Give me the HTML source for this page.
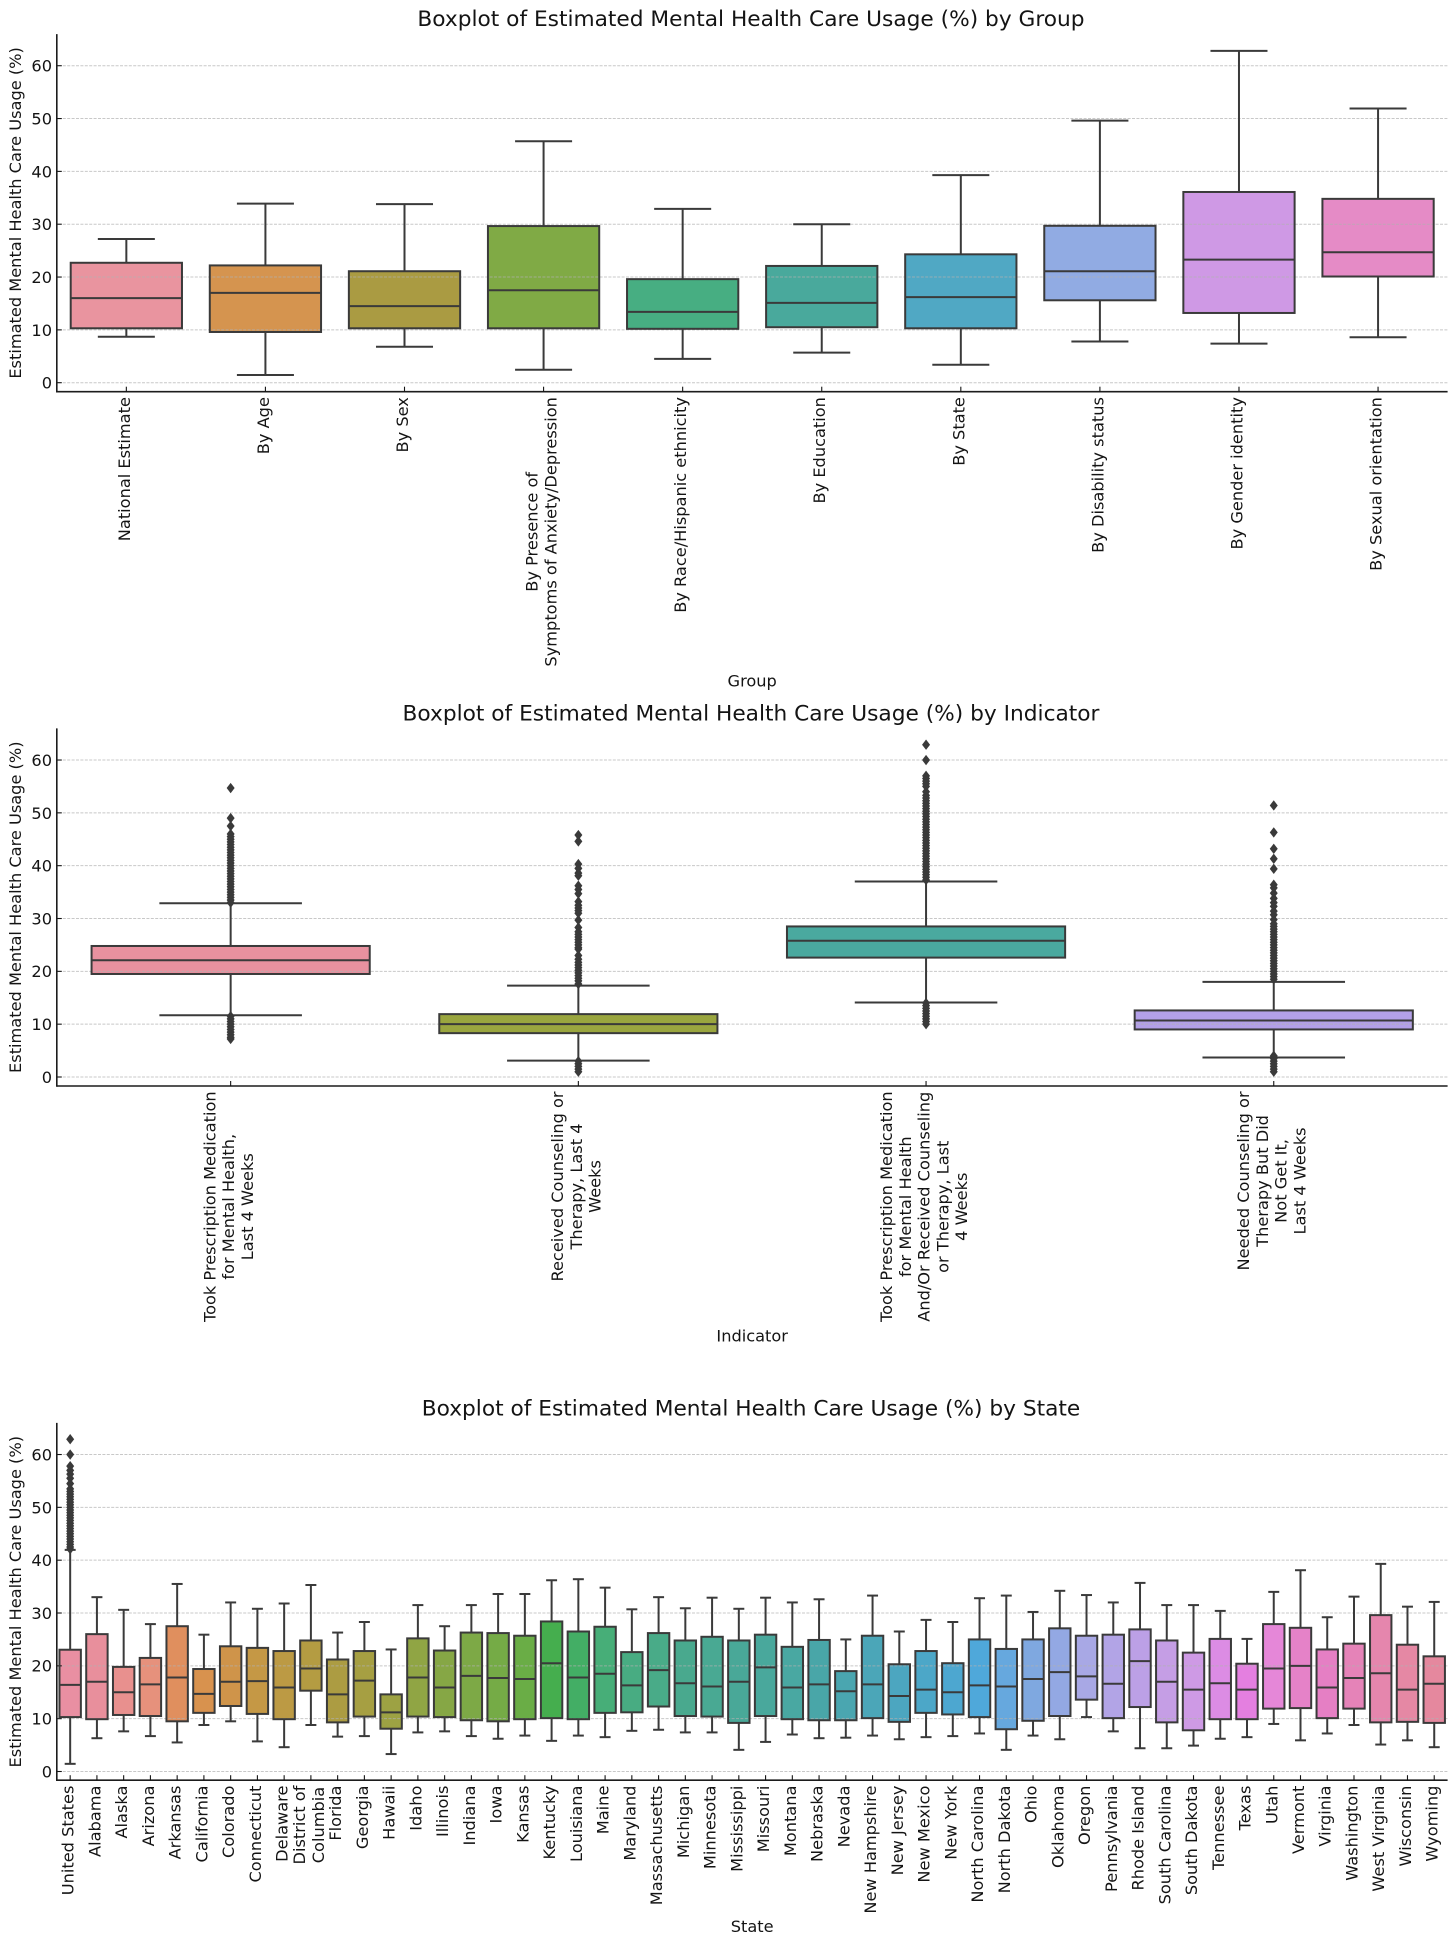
<!DOCTYPE html>
<html lang="en">
<head>
<meta charset="utf-8">
<title>Boxplots of Estimated Mental Health Care Usage</title>
<style>
html,body{margin:0;padding:0;background:#fff;}
svg{display:block;font-family:"DejaVu Sans","Liberation Sans",sans-serif;}
</style>
</head>
<body>
<svg id="figure" xmlns="http://www.w3.org/2000/svg" width="1456" height="1945" viewBox="0 0 1456 1945"></svg>
<script>
// ---------- Group chart data ----------
const groupCategories = [["National Estimate"],["By Age"],["By Sex"],["By Presence of","Symptoms of Anxiety/Depression"],["By Race/Hispanic ethnicity"],["By Education"],["By State"],["By Disability status"],["By Gender identity"],["By Sexual orientation"]];
const groupLow = [8.7,1.45,6.8,2.45,4.5,5.7,3.4,7.8,7.4,8.6];
const groupQ1 = [10.3,9.6,10.3,10.3,10.2,10.5,10.3,15.6,13.2,20.1];
const groupMedian = [16,17,14.5,17.5,13.4,15.1,16.2,21.1,23.3,24.7];
const groupQ3 = [22.7,22.2,21.1,29.65,19.6,22.1,24.3,29.7,36.1,34.8];
const groupHigh = [27.2,33.9,33.8,45.7,32.9,30,39.3,49.6,62.8,51.9];
const groupOutliers = [[],[],[],[],[],[],[],[],[],[]];

// ---------- Indicator chart data ----------
const indicatorCategories = [["Took Prescription Medication","for Mental Health,","Last 4 Weeks"],["Received Counseling or","Therapy, Last 4","Weeks"],["Took Prescription Medication","for Mental Health","And/Or Received Counseling","or Therapy, Last","4 Weeks"],["Needed Counseling or","Therapy But Did","Not Get It,","Last 4 Weeks"]];
const indicatorLow = [11.7,3.1,14.1,3.7];
const indicatorQ1 = [19.5,8.3,22.6,9];
const indicatorMedian = [22.1,10,25.8,10.7];
const indicatorQ3 = [24.8,11.9,28.5,12.6];
const indicatorHigh = [32.9,17.3,37,18];
const indicatorOutliers = [
  [54.7,49,47.5,46,45.5,45,44.5,44,43.5,43,42.5,42,41.5,41,40.5,40,39.5,39,38.5,38,37.5,37,36.5,36,35.5,35,34.5,34,33.5,33,11.5,11,10.5,10,9.5,9,8.5,8,7.5,7.2],
  [45.8,44.6,40.3,39.5,38.6,38.1,36.2,35.5,34.7,33.2,32.5,32,31.5,31,29.7,28.3,27.5,27,26.5,26,25.5,25,24.5,24.2,23,22.3,21.7,21.2,20.7,20.2,19.7,19.2,18.7,18.2,17.6,3,2.5,2,1.5,1],
  [62.9,60,57,56.5,56,55.5,55,54,53.3,52.8,52.3,51.8,51.3,50.8,50.3,49.8,49.3,48.8,48.3,47.8,47.3,46.8,46.3,45.8,45.3,44.8,44.3,43.8,43.3,42.8,42.3,41.8,41.3,40.8,40.3,39.8,39.3,38.8,38.3,37.8,37.3,14,13.5,13,12.5,12,11.5,11,10.5,10],
  [51.4,46.3,43.2,41.3,39.4,36.4,35.8,34.8,33.8,33,32.3,31.4,30.7,29.8,29,28.5,28,27.5,27,26.5,26,25.5,25,24.5,24,23.5,23,22.5,22,21.5,21,20.5,20,19.5,19,18.5,4,3.5,3,2.5,2,1.5,1]
];

// ---------- State chart data ----------
const stateCategories = [["United States"],["Alabama"],["Alaska"],["Arizona"],["Arkansas"],["California"],["Colorado"],["Connecticut"],["Delaware"],["District of","Columbia"],["Florida"],["Georgia"],["Hawaii"],["Idaho"],["Illinois"],["Indiana"],["Iowa"],["Kansas"],["Kentucky"],["Louisiana"],["Maine"],["Maryland"],["Massachusetts"],["Michigan"],["Minnesota"],["Mississippi"],["Missouri"],["Montana"],["Nebraska"],["Nevada"],["New Hampshire"],["New Jersey"],["New Mexico"],["New York"],["North Carolina"],["North Dakota"],["Ohio"],["Oklahoma"],["Oregon"],["Pennsylvania"],["Rhode Island"],["South Carolina"],["South Dakota"],["Tennessee"],["Texas"],["Utah"],["Vermont"],["Virginia"],["Washington"],["West Virginia"],["Wisconsin"],["Wyoming"]];
const stateLow = [1.45,6.3,7.6,6.7,5.5,8.8,9.5,5.7,4.6,8.8,6.6,6.7,3.3,7.4,7.6,6.7,6.2,6.8,5.8,6.8,6.5,7.7,7.9,7.4,7.4,4.1,5.6,7.0,6.3,6.4,6.8,6.1,6.5,6.7,7.2,4.1,6.8,6.1,10.3,7.6,4.4,4.4,4.9,6.2,6.5,9.0,5.9,7.2,8.8,5.1,5.9,4.6];
const stateQ1 = [10.3,9.9,10.7,10.5,9.5,11.1,12.4,10.9,9.9,15.3,9.3,10.4,8.1,10.4,10.3,9.7,9.5,9.9,10.1,9.9,11.1,11.2,12.3,10.5,10.4,9.2,10.5,9.9,9.7,9.7,10.1,9.4,11.1,10.8,10.3,8,9.6,10.5,13.6,10.1,12.2,9.3,7.8,9.9,9.9,11.9,12,10.1,11.9,9.3,9.4,9.2];
const stateMedian = [16.4,17,15,16.5,17.8,14.7,17,17.1,15.9,19.5,14.6,17.2,11.2,17.8,15.9,18.1,17.7,17.5,20.5,17.8,18.5,16.3,19.2,16.7,16.1,17,19.7,15.9,16.5,15.2,16.5,14.3,15.5,15,16.3,16.1,17.5,18.8,18,16.6,20.9,17,15.5,16.7,15.5,19.5,20,15.9,17.7,18.6,15.5,16.6];
const stateQ3 = [23.05,26,19.8,21.5,27.5,19.4,23.7,23.4,22.8,24.8,21.2,22.8,14.6,25.2,22.9,26.3,26.2,25.7,28.4,26.5,27.4,22.6,26.2,24.8,25.5,24.8,25.9,23.6,24.9,19,25.7,20.3,22.8,20.5,25,23.2,25,27.1,25.7,25.9,26.9,24.8,22.5,25.1,20.4,27.9,27.2,23.1,24.2,29.6,24,21.8];
const stateHigh = [41.95,33,30.6,27.9,35.5,25.9,32,30.8,31.8,35.3,26.3,28.3,23.1,31.5,27.5,31.5,33.6,33.6,36.2,36.4,34.8,30.7,33,30.9,32.9,30.8,32.9,32,32.6,25,33.3,26.5,28.7,28.3,32.8,33.3,30.2,34.2,33.4,32,35.7,31.5,31.5,30.4,25.1,34,38.1,29.2,33.1,39.3,31.2,32.1];
const stateUsOutliers = [62.9,60,57.8,57,56.3,55.5,54.5,53.5,53,52.5,52,51.5,51,50.5,50,49.5,49,48.5,48,47.5,47,46.5,46,45.5,45,44.5,44,43.5,43,42.5,42.1];

// ---------- Shared tick labels ----------
const yTicks = [0,10,20,30,40,50,60];

// ---------- Colours ----------
const groupColors = ["#E9949F","#D5944F","#AA9B42","#80AA45","#47AE82","#49A99C","#50A8C4","#91ABE3","#CF99E5","#E58BC6"];
const indicatorColors = ["#E8919F","#9AA63F","#4AA99F","#B3A0E8"];
const stateColorStops = ["#E98FA2","#E88F9C","#E8908E","#E6917C","#E08F5E","#D8924E","#CF944A","#C59845","#BC9A44","#B49C42","#AC9C42","#A69F42","#9DA243","#90A544","#86A745","#7DA946","#75AB46","#6AAD46","#45AE4E","#43AE65","#47AE78","#48AC82","#49AB88","#49A98E","#49A993","#49A898","#49A89C","#49A8A2","#49A6A8","#4AA6B0","#4BA6B8","#4CA6C0","#4CA7C8","#4DA7D0","#4FA8DA","#66A8DE","#7FA8E0","#93A8E3","#A8A8E5","#B2A4E6","#BCA0E6","#C59EE5","#CE9AE5","#DC8CE4","#E47FE0","#E587D8","#E582C8","#E57FC4","#E583B8","#E586AD","#E588A4","#E5889E"];

// ---------- Layout helpers ----------
const svg = document.getElementById('figure');
const NS = 'http://www.w3.org/2000/svg';
const plotLeft = 56.8, plotRight = 1447.6;
const FONT = 16.2, INK = '#3a3a3a', TEXT = '#141414';

function mk(parent, tag, attrs, text) {
  const el = document.createElementNS(NS, tag);
  for (const k in attrs) el.setAttribute(k, attrs[k]);
  if (text !== undefined) el.textContent = text;
  parent.appendChild(el);
  return el;
}
function slug(s) {
  return s.toLowerCase().replace(/[^a-z0-9]+/g, '-').replace(/^-|-$/g, '');
}

function drawChart(c) {
  const root = mk(svg, 'g', {});
  
  

  const yScale = v => c.zeroY - v * 5.283;
  const step = (plotRight - plotLeft) / c.categories.length;
  const xScale = i => plotLeft + step * (i + 0.5);
  const boxW = step * 0.8, capW = step * 0.41;

  const title = mk(root, 'text', {x: 751, y: c.titleY, 'text-anchor': 'middle', 'font-size': 21.7, fill: TEXT}, c.title);
  
  

  // box fills sit under the grid
  const fills = mk(root, 'g', {});
  
  
  c.categories.forEach((cat, i) => {
    const top = yScale(c.q3[i]), bot = yScale(c.q1[i]);
    const f = mk(fills, 'rect', {x: xScale(i) - boxW / 2, y: top, width: boxW, height: bot - top, fill: c.color(i)});
    
    
  });

  // gridlines + y ticks
  const grid = mk(root, 'g', {});
  
  
  yTicks.forEach(t => {
    const y = yScale(t);
    const g = mk(grid, 'line', {x1: plotLeft + 6, x2: plotRight, y1: y, y2: y, stroke: '#b0b0b0', 'stroke-opacity': 0.7, 'stroke-width': 1, 'stroke-dasharray': '3 1.4'});
    
    
    const tick = mk(root, 'line', {x1: plotLeft, x2: plotLeft + 5, y1: y, y2: y, stroke: TEXT, 'stroke-width': 1.1});
    
    
    const lab = mk(root, 'text', {x: 52, y: y + 5.9, 'text-anchor': 'end', 'font-size': FONT, fill: TEXT}, String(t));
    
    
  });

  // boxes, whiskers, outliers
  c.categories.forEach((cat, i) => {
    const name = slug(cat.join(' '));
    const cx = xScale(i);
    const b = mk(root, 'g', {fill: 'none', stroke: INK, 'stroke-width': 2});
    
    
    const top = yScale(c.q3[i]), bot = yScale(c.q1[i]);

    const w1 = mk(b, 'line', {x1: cx, x2: cx, y1: top, y2: yScale(c.high[i])});
    
    
    const w2 = mk(b, 'line', {x1: cx, x2: cx, y1: bot, y2: yScale(c.low[i])});
    
    
    const cap1 = mk(b, 'line', {x1: cx - capW / 2, x2: cx + capW / 2, y1: yScale(c.high[i]), y2: yScale(c.high[i])});
    
    
    const cap2 = mk(b, 'line', {x1: cx - capW / 2, x2: cx + capW / 2, y1: yScale(c.low[i]), y2: yScale(c.low[i])});
    
    
    const rect = mk(b, 'rect', {x: cx - boxW / 2, y: top, width: boxW, height: bot - top});
    
    
    const med = mk(b, 'line', {x1: cx - boxW / 2, x2: cx + boxW / 2, y1: yScale(c.median[i]), y2: yScale(c.median[i])});
    
    

    c.outliers[i].forEach(v => {
      const y = yScale(v);
      const d = mk(b, 'polygon', {points: (cx - 4) + ',' + y + ' ' + cx + ',' + (y - 5.2) + ' ' + (cx + 4) + ',' + y + ' ' + cx + ',' + (y + 5.2), fill: INK, stroke: 'none'});
      
      
    });
  });

  // spines
  const sl = mk(root, 'line', {x1: plotLeft, x2: plotLeft, y1: c.zeroY - 348.6, y2: c.axisY + 0.8, stroke: '#1c1c1c', 'stroke-width': 1.6});
  
  
  const sb = mk(root, 'line', {x1: plotLeft, x2: plotRight, y1: c.axisY, y2: c.axisY, stroke: '#1c1c1c', 'stroke-width': 1.6});
  
  

  // x ticks and multi-line rotated labels
  const labelTop = c.axisY + 5.4;
  c.categories.forEach((cat, i) => {
    const cx = xScale(i);
    const name = slug(cat.join(' '));
    const tick = mk(root, 'line', {x1: cx, x2: cx, y1: c.axisY - 5, y2: c.axisY, stroke: TEXT, 'stroke-width': 1.1});
    
    
    const g = mk(root, 'g', {});
    
    
    const nodes = cat.map(line => mk(g, 'text', {'text-anchor': 'middle', 'font-size': FONT, fill: TEXT}, line));
    let longest = 0;
    nodes.forEach(n => { longest = Math.max(longest, n.getComputedTextLength()); });
    const midY = labelTop + longest / 2;
    nodes.forEach((n, k) => {
      const bx = cx + 3.5 + (k - (nodes.length - 1) / 2) * 18.8;
      n.setAttribute('transform', 'translate(' + bx + ' ' + midY + ') rotate(-90)');
    });
  });

  // axis titles
  const yl = mk(root, 'text', {'text-anchor': 'middle', 'font-size': FONT, fill: TEXT, transform: 'translate(21 ' + (c.zeroY - 169.8) + ') rotate(-90)'}, 'Estimated Mental Health Care Usage (%)');
  
  
  const xl = mk(root, 'text', {x: 752.2, y: c.xLabelY, 'text-anchor': 'middle', 'font-size': FONT, fill: TEXT}, c.xLabel);
  
  
}

drawChart({key: 'group', title: 'Boxplot of Estimated Mental Health Care Usage (%) by Group', xLabel: 'Group',
  titleY: 26, zeroY: 382.7, axisY: 391.7, xLabelY: 686.5,
  categories: groupCategories, low: groupLow, q1: groupQ1, median: groupMedian, q3: groupQ3, high: groupHigh,
  outliers: groupOutliers, color: i => groupColors[i]});

drawChart({key: 'indicator', title: 'Boxplot of Estimated Mental Health Care Usage (%) by Indicator', xLabel: 'Indicator',
  titleY: 720.7, zeroY: 1077, axisY: 1086, xLabelY: 1341.5,
  categories: indicatorCategories, low: indicatorLow, q1: indicatorQ1, median: indicatorMedian, q3: indicatorQ3, high: indicatorHigh,
  outliers: indicatorOutliers, color: i => indicatorColors[i]});

drawChart({key: 'state', title: 'Boxplot of Estimated Mental Health Care Usage (%) by State', xLabel: 'State',
  titleY: 1415.3, zeroY: 1771.5, axisY: 1780.2, xLabelY: 1932,
  categories: stateCategories, low: stateLow, q1: stateQ1, median: stateMedian, q3: stateQ3, high: stateHigh,
  outliers: stateCategories.map((c, i) => i === 0 ? stateUsOutliers : []), color: i => stateColorStops[i]});
</script>
</body>
</html>
